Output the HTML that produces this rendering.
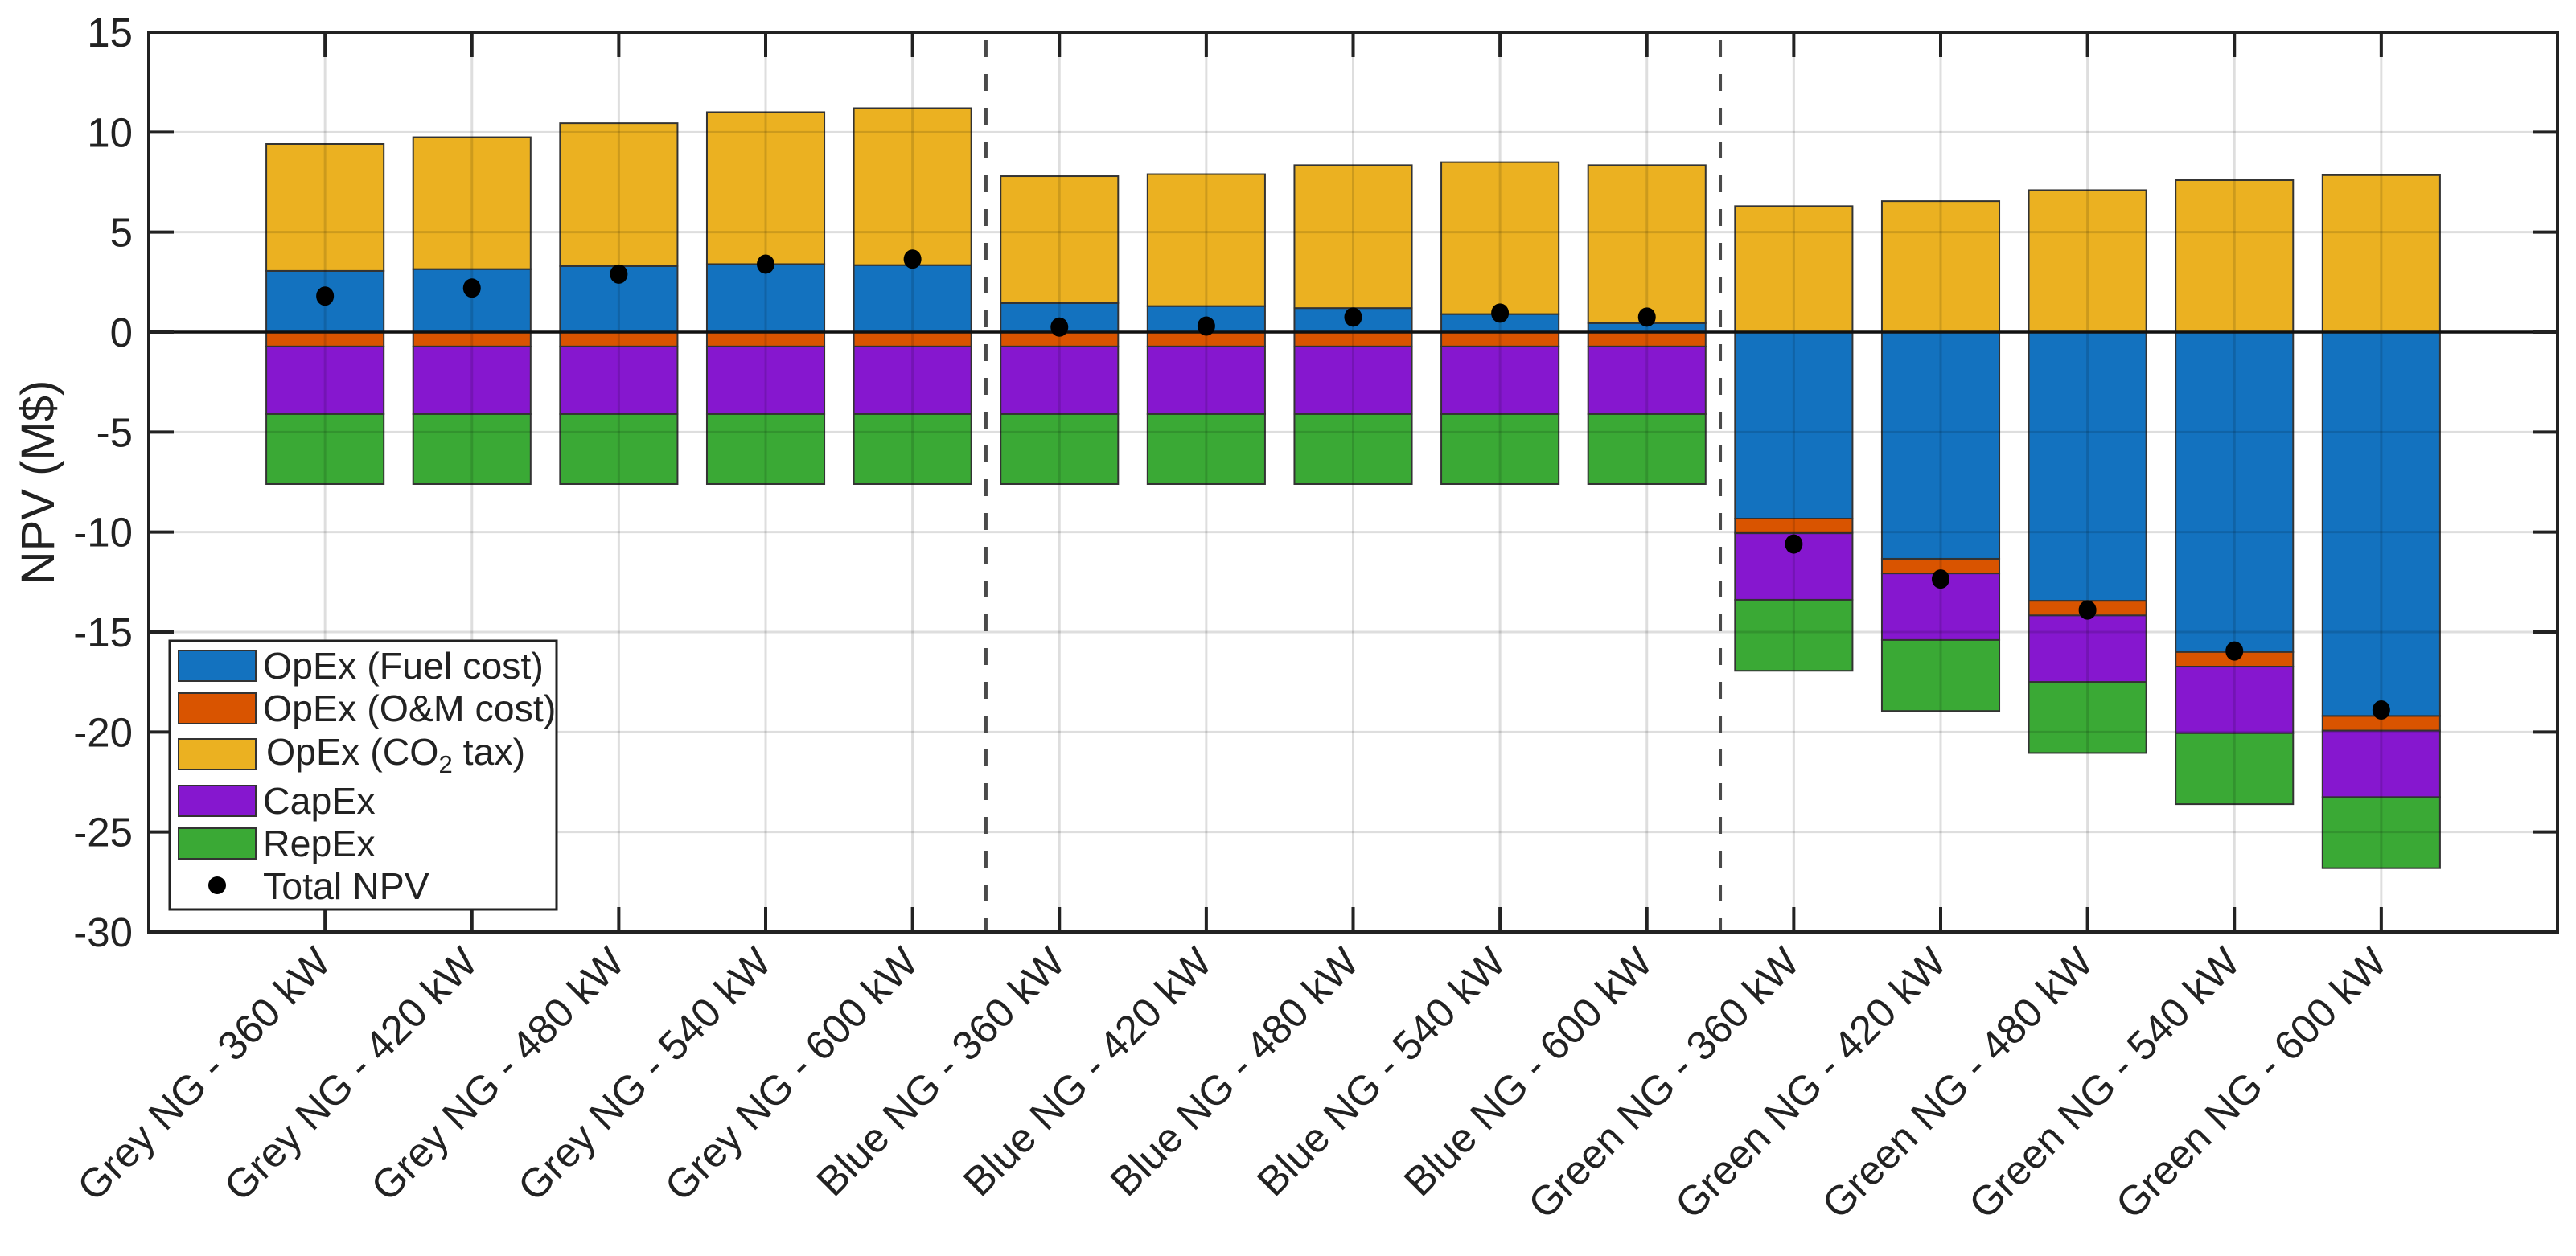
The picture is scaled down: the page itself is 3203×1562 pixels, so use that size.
<!DOCTYPE html>
<html><head><meta charset="utf-8"><style>
html,body{margin:0;padding:0;background:#fff;}
svg{display:block;font-family:"Liberation Sans",Arial,sans-serif;}
</style></head><body>
<svg id="chart" width="3203" height="1562" viewBox="0 0 3203 1562" xmlns="http://www.w3.org/2000/svg">
<g id="plot"></g>
</svg>
<script>
const categories = ["Grey NG - 360 kW","Grey NG - 420 kW","Grey NG - 480 kW","Grey NG - 540 kW","Grey NG - 600 kW",
"Blue NG - 360 kW","Blue NG - 420 kW","Blue NG - 480 kW","Blue NG - 540 kW","Blue NG - 600 kW",
"Green NG - 360 kW","Green NG - 420 kW","Green NG - 480 kW","Green NG - 540 kW","Green NG - 600 kW"];
const fuelCost = [3.06,3.15,3.3,3.4,3.35, 1.45,1.3,1.2,0.9,0.45, -9.33,-11.34,-13.44,-16.0,-19.2];
const omCost = [-0.72,-0.72,-0.72,-0.72,-0.72, -0.72,-0.72,-0.72,-0.72,-0.72, -0.73,-0.73,-0.73,-0.73,-0.73];
const co2Tax = [6.35,6.6,7.15,7.6,7.85, 6.35,6.6,7.15,7.6,7.9, 6.3,6.55,7.1,7.6,7.85];
const capex = [-3.38,-3.38,-3.38,-3.38,-3.38, -3.38,-3.38,-3.38,-3.38,-3.38, -3.33,-3.33,-3.33,-3.33,-3.33];
const repex = [-3.5,-3.5,-3.5,-3.5,-3.5, -3.5,-3.5,-3.5,-3.5,-3.5, -3.55,-3.55,-3.55,-3.55,-3.55];
const totalNPV = [1.8,2.2,2.9,3.4,3.65, 0.25,0.3,0.75,0.95,0.75, -10.6,-12.35,-13.9,-15.95,-18.9];
const yTicks = [15,10,5,0,-5,-10,-15,-20,-25,-30];
const dividers = [5.5,10.5];

const L=185,R=3180,T=40,B=1159;
const XMIN=-0.2,XMAX=16.2,YMIN=-30,YMAX=15;
const xs=v=>L+(v-XMIN)/(XMAX-XMIN)*(R-L);
const ys=v=>B-(v-YMIN)/(YMAX-YMIN)*(B-T);
const NS="http://www.w3.org/2000/svg";
const g=document.getElementById('plot');
function el(tag,attrs,parent){const e=document.createElementNS(NS,tag);for(const k in attrs)e.setAttribute(k,attrs[k]);(parent||g).appendChild(e);return e;}
const C={fuel:"#1372bf",om:"#d95400",co2:"#ebb121",capex:"#8617cf",repex:"#3aa935"};
const bw=0.8;

categories.forEach((c,i)=>{
  const x=i+1;
  let pos=0,neg=0;
  const segs=[["fuel",fuelCost[i]],["om",omCost[i]],["co2",co2Tax[i]],["capex",capex[i]],["repex",repex[i]]];
  segs.forEach(([k,v])=>{
    let y0,y1;
    if(v>=0){y0=pos;y1=pos+v;pos=y1;}else{y0=neg;y1=neg+v;neg=y1;}
    const r=el('rect',{x:xs(x-bw/2),y:ys(Math.max(y0,y1)),width:xs(x+bw/2)-xs(x-bw/2),height:Math.abs(ys(y1)-ys(y0)),fill:C[k],stroke:"#333",'stroke-width':2});
    
    
  });
});
yTicks.forEach(t=>{
  const l=el('line',{x1:L,x2:R,y1:ys(t),y2:ys(t),stroke:"rgba(0,0,0,0.13)",'stroke-width':3});
  
  
});
categories.forEach((c,i)=>{
  const l=el('line',{x1:xs(i+1),x2:xs(i+1),y1:T,y2:B,stroke:"rgba(0,0,0,0.13)",'stroke-width':3});
  
  
});
const z=el('line',{x1:L,x2:R,y1:ys(0),y2:ys(0),stroke:"#111",'stroke-width':3.5});


dividers.forEach(d=>{
  const l=el('line',{x1:xs(d),x2:xs(d),y1:T+10,y2:B,stroke:"#4a4a4a",'stroke-width':4,'stroke-dasharray':"21 21"});
  
  
});
totalNPV.forEach((v,i)=>{
  const d=el('ellipse',{cx:xs(i+1),cy:ys(v),rx:11,ry:12,fill:"#000"});
  
  
});
const box=el('rect',{x:L,y:T,width:R-L,height:B-T,fill:"none",stroke:"#222",'stroke-width':4});


yTicks.forEach(t=>{
  el('line',{x1:L,x2:L+31,y1:ys(t),y2:ys(t),stroke:"#222",'stroke-width':4});
  el('line',{x1:R-31,x2:R,y1:ys(t),y2:ys(t),stroke:"#222",'stroke-width':4});
  const tx=el('text',{x:165,y:ys(t)+18,'text-anchor':"end",'font-size':51,fill:"#222"});
  tx.textContent=t;
  
  
});
categories.forEach((c,i)=>{
  const x=xs(i+1);
  el('line',{x1:x,x2:x,y1:T,y2:T+31,stroke:"#222",'stroke-width':4});
  el('line',{x1:x,x2:x,y1:B-31,y2:B,stroke:"#222",'stroke-width':4});
  const tx=el('text',{x:x+10,y:1200,'text-anchor':"end",'font-size':51,fill:"#222",transform:`rotate(-45 ${x+10} 1200)`});
  tx.textContent=c;
  
  
});
</script>
<div style="position:absolute;left:0;top:0;">
<svg width="3203" height="1562" style="position:absolute;left:0;top:0;font-family:'Liberation Sans',Arial,sans-serif;">
<text x="0" y="0" transform="translate(67 600) rotate(-90)" text-anchor="middle" font-size="58" fill="#222">NPV (M$)</text>
<g>
<rect x="211" y="797" width="481" height="334" fill="#fff" stroke="#222" stroke-width="3"/>
<rect x="222" y="809" width="96" height="38" fill="#1372bf" stroke="#333" stroke-width="2"/>
<text x="327" y="844" font-size="46.5" fill="#222">OpEx (Fuel cost)</text>
<rect x="222" y="862" width="96" height="38" fill="#d95400" stroke="#333" stroke-width="2"/>
<text x="327" y="897" font-size="46.5" fill="#222">OpEx (O&amp;M cost)</text>
<rect x="222" y="919" width="96" height="38" fill="#ebb121" stroke="#333" stroke-width="2"/>
<text x="331" y="951" font-size="46.5" fill="#222">OpEx (CO<tspan font-size="31" dy="10">2</tspan><tspan dy="-10"> tax)</tspan></text>
<rect x="222" y="977" width="96" height="38" fill="#8617cf" stroke="#333" stroke-width="2"/>
<text x="327" y="1012" font-size="46.5" fill="#222">CapEx</text>
<rect x="222" y="1030" width="96" height="38" fill="#3aa935" stroke="#333" stroke-width="2"/>
<text x="327" y="1065" font-size="46.5" fill="#222">RepEx</text>
<circle cx="270" cy="1101" r="11" fill="#000"/>
<text x="327" y="1118" font-size="46.5" fill="#222">Total NPV</text>
</g>
</svg>
</div>
</body></html>
